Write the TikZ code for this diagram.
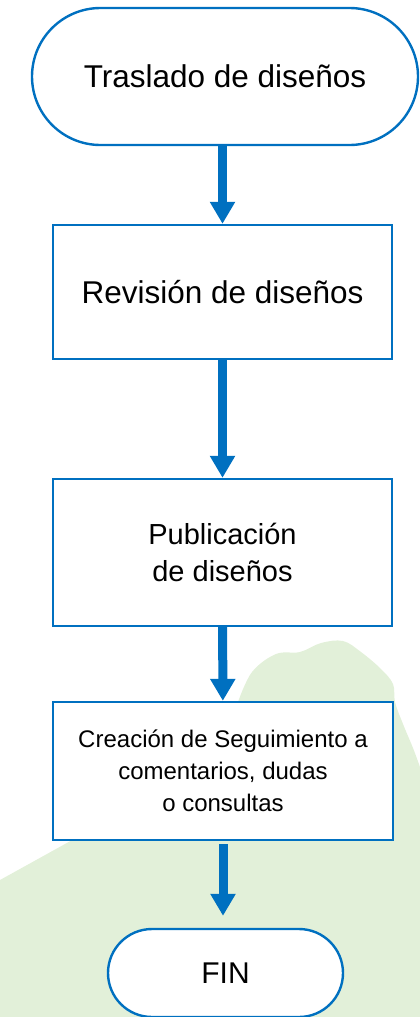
\documentclass[tikz,border=0pt]{standalone}
\usepackage{fontspec}
\setmainfont{Liberation Sans}
\usetikzlibrary{arrows.meta,shapes.misc}

\definecolor{flowblue}{HTML}{0070C0}
\definecolor{bggreen}{HTML}{E2F0D9}

\tikzset{
  >={Triangle[width=24pt,length=22pt]},   % default arrow tip
  terminal/.style={rounded rectangle, draw=flowblue, line width=2.4pt, fill=white, inner sep=0pt},
  process/.style={rectangle, draw=flowblue, line width=2.4pt, fill=white, inner sep=0pt, align=center},
  flow/.style={->, flowblue, line width=9pt}
}

\begin{document}
\begin{tikzpicture}[x=1pt,y=-1pt]
	\useasboundingbox (0,0) rectangle (420,1017);

	% background
	\fill[bggreen] (0,880) -- (130,808) -- (238,702)
		-- plot[smooth, tension=0.6] coordinates {(238,702) (252,672) (276,654) (300,652) (321,643) (343,641) (361,652) (381,669) (393,684) (395,702) (403,724) (413,748) (420,767)}
		-- (420,1017) -- (0,1017) -- cycle;

	% steps
	\node[terminal, minimum width=386pt, minimum height=137pt, font=\fontsize{31.5}{38}\selectfont] (inicio) at (225,76.5)
		{Traslado de diseños};
	\node[process, minimum width=339pt, minimum height=134pt, font=\fontsize{31.5}{38}\selectfont] (revision) at (222.5,292)
		{Revisión de diseños};
	\node[process, minimum width=339pt, minimum height=147pt, font=\fontsize{29}{37}\selectfont] (publicacion) at (222.5,552.5)
		{Publicación\\de diseños};
	\node[process, minimum width=340pt, minimum height=138pt, font=\fontsize{24}{32}\selectfont] (seguimiento) at (223,771)
		{Creación de Seguimiento a\\comentarios, dudas\\o consultas};
	\node[terminal, minimum width=235pt, minimum height=88pt, font=\fontsize{30}{36}\selectfont] (fin) at (225.5,973)
		{FIN};

	% arrows
	\draw[flow] (inicio.south -| revision) -- (revision.north);
	\draw[flow] (revision) -- (publicacion);
	\draw[flow] (publicacion) -- (seguimiento);
	\draw[flow, shorten >=12pt, shorten <=3pt] (seguimiento) -- (seguimiento |- fin.north);

\end{tikzpicture}
\end{document}
